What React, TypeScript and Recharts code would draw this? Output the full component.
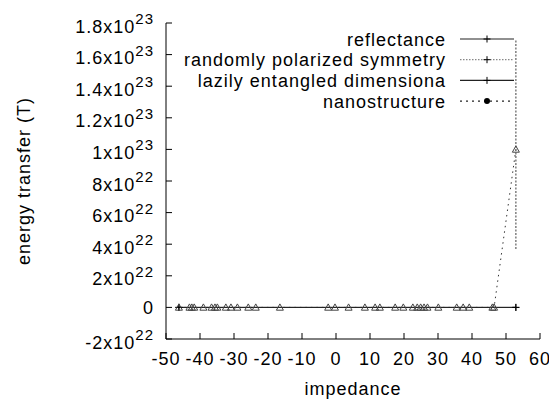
import React from 'react';
import { LineChart, Line, XAxis, YAxis, Legend } from 'recharts';

const FONT = "'Liberation Sans', Arial, Helvetica, sans-serif";

const xTicks = [-50, -40, -30, -20, -10, 0, 10, 20, 30, 40, 50, 60];
const yTicks = [-2e22, 0, 2e22, 4e22, 6e22, 8e22, 1e23, 1.2e23, 1.4e23, 1.6e23, 1.8e23];

const seriesNames = ['reflectance', 'randomly polarized symmetry', 'lazily entangled dimensiona', 'nanostructure'];

const reflectanceX = [-46.2, 52.9];
const reflectanceY = [0, 0];

const polarizedX = [52.9, 52.9];
const polarizedY = [1.69e23, 3.63e22];

const entangledX = [-46.2, 52.9];
const entangledY = [0, 0];

const nanoX = [-46.2, -43.1, -42.4, -41.7, -39.0, -36.6, -35.6, -34.9, -32.4, -30.9, -29.0, -25.8, -23.6, -16.5, -2.3, -0.3, 3.7, 8.5, 11.5, 12.9, 17.4, 19.8, 22.6, 23.9, 24.9, 25.9, 26.9, 30.1, 35.5, 37.4, 39.2, 46.0, 46.5, 52.9];
const nanoY = [0, 0, 0, 0, 0, 0, 0, 0, 0, 0, 0, 0, 0, 0, 0, 0, 0, 0, 0, 0, 0, 0, 0, 0, 0, 0, 0, 0, 0, 0, 0, 0, 0, 1e23];

const zip = (xs: number[], ys: number[]) => xs.map((x, i) => ({ x, y: ys[i] }));

const reflectanceData = zip(reflectanceX, reflectanceY);
const polarizedData = zip(polarizedX, polarizedY);
const entangledData = zip(entangledX, entangledY);
const nanoData = zip(nanoX, nanoY);

const textStyle = { fontFamily: FONT, fontSize: 18, letterSpacing: 1, fill: '#000' } as const;

function fmtY(v: number): { m: string; e: string | null } {
  if (v === 0) return { m: '0', e: null };
  const e = Math.floor(Math.log10(Math.abs(v)) + 1e-9);
  const m = v / Math.pow(10, e);
  return { m: `${parseFloat(m.toFixed(2))}x10`, e: String(e) };
}

const LeftTick = (props: any) => {
  const { x, y, payload } = props;
  const f = fmtY(payload.value);
  return (
    <g>
      <line x1={x} x2={x + 6} y1={y} y2={y} stroke="#000" strokeWidth={1} />
      {f.e === null ? (
        <text x={x - 12} y={y + 7} textAnchor="end" style={textStyle}>{f.m}</text>
      ) : (
        <text x={x - 12} y={y + 9.5} textAnchor="end" style={textStyle}>
          <tspan>{f.m}</tspan>
          <tspan dy={-8.5} style={{ fontSize: 15 }}>{f.e}</tspan>
        </text>
      )}
    </g>
  );
};

const RightTick = (props: any) => {
  const { x, y } = props;
  return <line x1={x} x2={x - 6} y1={y} y2={y} stroke="#000" strokeWidth={1} />;
};

const BottomTick = (props: any) => {
  const { x, y, payload } = props;
  return (
    <g>
      <line x1={x} x2={x} y1={y} y2={y - 6} stroke="#000" strokeWidth={1} />
      <text x={x} y={y + 26} textAnchor="middle" style={textStyle}>{payload.value}</text>
    </g>
  );
};

const TopTick = (props: any) => {
  const { x, y } = props;
  return <line x1={x} x2={x} y1={y} y2={y + 6} stroke="#000" strokeWidth={1} />;
};

const plusShape = (cx: number, cy: number, key: any, color = '#000') => (
  <g key={key}>
    <line x1={cx - 3.5} x2={cx + 3.5} y1={cy} y2={cy} stroke={color} strokeWidth={1} />
    <line x1={cx} x2={cx} y1={cy - 3.5} y2={cy + 3.5} stroke={color} strokeWidth={1} />
  </g>
);

const PlusDot = (props: any) => {
  const { cx, cy, index } = props;
  if (cx == null || cy == null) return <g key={`p${index}`} />;
  return plusShape(cx, cy, `p${index}`);
};

const TriDot = (props: any) => {
  const { cx, cy, index } = props;
  if (cx == null || cy == null) return <g key={`t${index}`} />;
  const h = 3.5;
  return (
    <polygon
      key={`t${index}`}
      points={`${cx},${cy - h} ${cx + h},${cy + h * 0.8} ${cx - h},${cy + h * 0.8}`}
      fill="none"
      stroke="#444"
      strokeWidth={1}
    />
  );
};

const legendStyles = [
  { stroke: '#222', dash: undefined as string | undefined, marker: 'plus' },
  { stroke: '#888', dash: '1.5 1.5', marker: 'plus' },
  { stroke: '#222', dash: undefined, marker: 'plus' },
  { stroke: '#222', dash: '2 4', marker: 'circle' },
];

const renderLegend = () => (
  <svg width={380} height={95} style={{ overflow: 'visible' }}>
    {seriesNames.map((name, i) => {
      const cy = 11 + i * 20.7;
      const st = legendStyles[i];
      return (
        <g key={name}>
          <text x={288} y={cy + 6.5} textAnchor="end" style={textStyle}>{name}</text>
          <line x1={302} x2={356} y1={cy} y2={cy} stroke={st.stroke} strokeWidth={1.2} strokeDasharray={st.dash} />
          {st.marker === 'plus' ? plusShape(329, cy, 'm') : <circle cx={329} cy={cy} r={3} fill="#000" />}
        </g>
      );
    })}
  </svg>
);

const XLabel = (props: any) => {
  const vb = props.viewBox;
  return (
    <text x={vb.x + vb.width / 2} y={vb.y + 56} textAnchor="middle" style={textStyle}>impedance</text>
  );
};

const YLabel = (props: any) => {
  const vb = props.viewBox;
  const cx = vb.x - 2.5;
  const cy = vb.y + vb.height / 2;
  return (
    <text x={cx} y={cy} textAnchor="middle" dominantBaseline="central" transform={`rotate(-90, ${cx}, ${cy})`} style={textStyle}>
      energy transfer (T)
    </text>
  );
};

export default function App() {
  return (
    <div style={{ width: 549, height: 395 }}>
      <LineChart width={549} height={395} margin={{ top: 15, right: 17, bottom: 34, left: 18 }}>
        <XAxis
          dataKey="x"
          type="number"
          domain={[-50, 60]}
          ticks={xTicks}
          interval={0}
          height={30}
          tickSize={0}
          tickMargin={0}
          tickLine={false}
          tick={BottomTick}
          axisLine={{ stroke: '#000' }}
          allowDataOverflow
          label={XLabel}
        />
        <XAxis
          xAxisId="top"
          orientation="top"
          dataKey="x"
          type="number"
          domain={[-50, 60]}
          ticks={xTicks}
          interval={0}
          height={0}
          tickSize={0}
          tickMargin={0}
          tickLine={false}
          tick={TopTick}
          axisLine={{ stroke: '#000' }}
          allowDataOverflow
        />
        <YAxis
          type="number"
          domain={[-2e22, 1.8e23]}
          ticks={yTicks}
          interval={0}
          width={140}
          tickSize={0}
          tickMargin={0}
          tickLine={false}
          tick={LeftTick}
          axisLine={{ stroke: '#000' }}
          allowDataOverflow
          label={YLabel}
        />
        <YAxis
          yAxisId="right"
          orientation="right"
          type="number"
          domain={[-2e22, 1.8e23]}
          ticks={yTicks}
          interval={0}
          width={0}
          tickSize={0}
          tickMargin={0}
          tickLine={false}
          tick={RightTick}
          axisLine={{ stroke: '#000' }}
          allowDataOverflow
        />
        <Legend
          layout="vertical"
          align="center"
          verticalAlign="middle"
          content={renderLegend}
          wrapperStyle={{ top: 20, left: 150, width: 380, height: 95 }}
        />
        <Line
          name={seriesNames[3]}
          data={nanoData}
          dataKey="y"
          type="linear"
          stroke="#333"
          strokeWidth={1}
          strokeDasharray="1.5 4"
          dot={false}
          activeDot={false}
          isAnimationActive={false}
        />
        <Line
          name={seriesNames[1]}
          data={polarizedData}
          dataKey="y"
          type="linear"
          stroke="#777"
          strokeWidth={1.4}
          strokeDasharray="2 1.5"
          dot={false}
          activeDot={false}
          isAnimationActive={false}
        />
        <Line
          name={seriesNames[0]}
          data={reflectanceData}
          dataKey="y"
          type="linear"
          stroke="#222"
          strokeWidth={1}
          dot={PlusDot}
          activeDot={false}
          isAnimationActive={false}
        />
        <Line
          name={seriesNames[2]}
          data={entangledData}
          dataKey="y"
          type="linear"
          stroke="#222"
          strokeWidth={1}
          dot={PlusDot}
          activeDot={false}
          isAnimationActive={false}
        />
        <Line
          name={seriesNames[3] + ' markers'}
          legendType="none"
          data={nanoData}
          dataKey="y"
          type="linear"
          stroke="none"
          dot={TriDot}
          activeDot={false}
          isAnimationActive={false}
        />
      </LineChart>
    </div>
  );
}
